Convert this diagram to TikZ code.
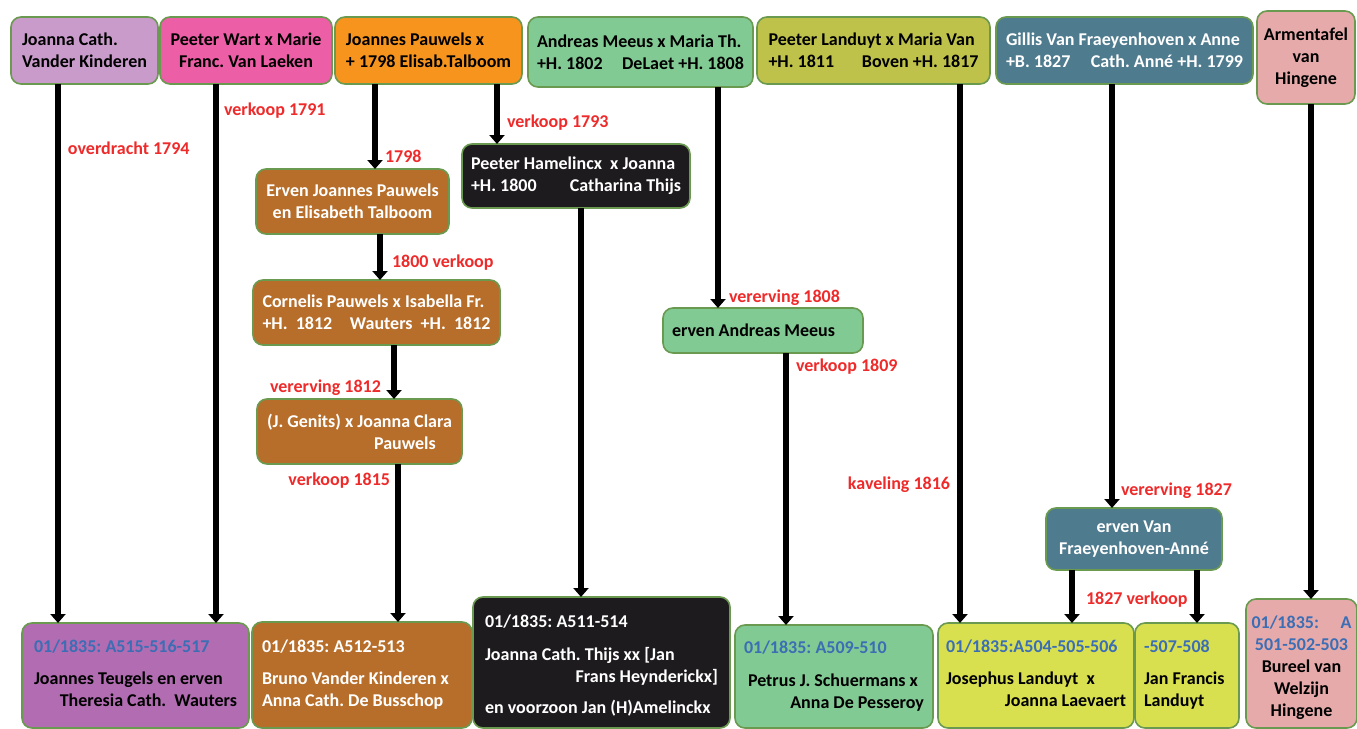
\documentclass[tikz,border=0pt]{standalone}
\usepackage{fontspec}
\setmainfont{Carlito}
\usetikzlibrary{arrows.meta}
\frenchspacing

\definecolor{rim}{HTML}{6A9A50}
\definecolor{lilac}{HTML}{C99BCB}
\definecolor{rose}{HTML}{EC5EA5}
\definecolor{amber}{HTML}{F7941E}
\definecolor{mint}{HTML}{82CA94}
\definecolor{olive}{HTML}{BFC24A}
\definecolor{slate}{HTML}{4F7B8F}
\definecolor{blush}{HTML}{E7AAAA}
\definecolor{rust}{HTML}{B76E2A}
\definecolor{ink}{HTML}{1E1B1F}
\definecolor{plum}{HTML}{B26CB2}
\definecolor{lime}{HTML}{D9E050}
\definecolor{idblue}{HTML}{3B6EB4}
\definecolor{lblred}{HTML}{EE2A2A}

% one line stretched over a fixed width
\newcommand{\spreadline}[3]{\hbox to #1{#2\hfill#3}}
\newcommand{\kad}[1]{\textcolor{idblue}{#1}}

\begin{document}
\begin{tikzpicture}[x=0.5pt,y=-0.5pt,
    box/.style={draw=rim, line width=0.8pt, rounded corners=5pt, inner sep=0pt, outer sep=0pt,
      anchor=north west, font=\bfseries\fontsize{9}{11}\selectfont},
    low/.style={box, inner xsep=#1, inner ysep=0pt, align=flush left},
    conn/.style={line width=3pt, -{Triangle[width=7.5pt,length=4.5pt]}},
    lbl/.style={text=lblred, inner sep=0pt, font=\bfseries\fontsize{9}{11}\selectfont}]
  \useasboundingbox (0,0) rectangle (1357,729);

  % owners before the cadastre
  \node[box, fill=lilac, minimum width=73.5pt, minimum height=33.5pt, align=left] (joanna) at (11,17) {Joanna Cath.\\Vander Kinderen};
  \node[box, fill=rose, minimum width=86pt, minimum height=33.5pt, align=center] (wart) at (160,17) {Peeter Wart x Marie\\Franc. Van Laeken};
  \node[box, fill=amber, minimum width=93.5pt, minimum height=33.5pt, align=left] (pauwels) at (335,17) {Joannes Pauwels x\\+ 1798 Elisab.Talboom};
  \node[box, fill=mint, minimum width=112.5pt, minimum height=35pt, align=left] (meeus) at (528,17) {Andreas Meeus x Maria Th.\\\spreadline{103.5pt}{+H. 1802}{DeLaet +H. 1808}};
  \node[box, fill=olive, minimum width=116.5pt, minimum height=33.5pt, align=left] (landuyt) at (757,17) {Peeter Landuyt x Maria Van\\\spreadline{105pt}{+H. 1811}{Boven +H. 1817}};
  \node[box, fill=slate, text=white, minimum width=128.5pt, minimum height=33.5pt, align=left] (gillis) at (996,17) {Gillis Van Fraeyenhoven x Anne\\\spreadline{118.5pt}{+B. 1827}{Cath. Anné +H. 1799}};
  \node[box, fill=blush, minimum width=49pt, minimum height=46.5pt, align=center] (armen) at (1257,11) {Armentafel\\van\\Hingene};

  % in between
  \node[box, fill=rust, text=white, minimum width=96.5pt, minimum height=32.5pt, align=center] (ervenjp) at (256,169) {Erven Joannes Pauwels\\en Elisabeth Talboom};
  \node[box, fill=rust, text=white, minimum width=123.5pt, minimum height=32.5pt, align=left] (cornelis) at (253,280) {Cornelis Pauwels x Isabella Fr.\\\spreadline{114pt}{+H.~~1812}{Wauters~~+H.~~1812}};
  \node[box, fill=rust, text=white, minimum width=102.5pt, minimum height=32.5pt, align=left] (genits) at (257,399) {(J. Genits) x Joanna Clara\\\hspace*{53.5pt}Pauwels};
  \node[box, fill=ink, text=white, minimum width=114pt, minimum height=32pt, align=left] (hamel) at (462,144) {Peeter Hamelincx~~x Joanna\\\spreadline{105pt}{+H. 1800}{Catharina Thijs}};
  \node[box, fill=mint, minimum width=100pt, minimum height=22.5pt, text width=91pt, align=flush left] (ervenam) at (663,308) {erven Andreas Meeus};
  \node[box, fill=slate, text=white, minimum width=88pt, minimum height=31pt, align=center] (ervenvf) at (1046,508) {erven Van\\Fraeyenhoven-Anné};

  % cadastre 1835
  \node[low=6pt, fill=plum, text width=101.5pt, text height=14.5pt, text depth=38pt] (teugels) at (22,623)
    {\kad{01/1835: A515-516-517}\\[5pt]Joannes Teugels en erven\\\hspace*{\fill}Theresia Cath.~~Wauters};
  \node[low=5pt, fill=rust, text=white, text width=100pt, text height=15pt, text depth=38pt] (busschop) at (252,622)
    {01/1835: A512-513\\[5pt]Bruno Vander Kinderen x\\Anna Cath. De Busschop};
  \node[low=6pt, fill=ink, text=white, text width=116.5pt, text height=15pt, text depth=50.5pt] (thijs) at (473,597)
    {01/1835: A511-514\\[5.5pt]Joanna Cath. Thijs xx [Jan\\\hspace*{\fill}Frans Heynderickx]\\[4.5pt]en voorzoon Jan (H)Amelinckx};
  \node[low=4.5pt, fill=mint, text width=90pt, text height=14pt, text depth=37.5pt] (schuer) at (735,625)
    {\kad{01/1835: A509-510}\\[5.5pt]\hspace*{2pt}Petrus J. Schuermans x\\\hspace*{\fill}Anna De Pesseroy};
  \node[low=4pt, fill=lime, text width=90pt, text height=14.5pt, text depth=38pt] (josephus) at (938,623)
    {\kad{01/1835:A504-505-506}\\[5pt]Josephus Landuyt~~x\\\hspace*{\fill}Joanna Laevaert};
  \node[low=4.5pt, fill=lime, text width=43pt, text height=14.5pt, text depth=38pt] (janfr) at (1135,623)
    {\kad{-507-508}\\[5pt]Jan Francis\\Landuyt};
  \node[low=2.75pt, fill=blush, text width=50pt, text height=14.5pt, text depth=50pt, align=flush center] (bureel) at (1246,599)
    {\kad{01/1835:\hfill A}\\\kad{501-502-503}\\Bureel van\\Welzijn\\Hingene};

  \path[conn]
    ([xshift=23.5pt]joanna.south west) edge node[lbl, pos=.12, right=3.5pt] {overdracht 1794} ([xshift=18pt]teugels.north west)
    ([xshift=28pt]wart.south west) edge node[lbl, pos=.05, right=2.5pt] {verkoop 1791} ([xshift=97pt]teugels.north west)
    ([xshift=20pt]pauwels.south west) edge node[lbl, pos=.85, right=3.5pt] {1798} ([xshift=59.5pt]ervenjp.north west)
    ([xshift=81pt]pauwels.south west) edge node[lbl, pos=.65, right=3.5pt] {verkoop 1793} ([xshift=17.5pt]hamel.north west)
    ([xshift=95pt]meeus.south west) edge node[lbl, pos=.955, right=4pt] {vererving 1808} ([xshift=27.5pt]ervenam.north west)
    ([xshift=101.5pt]landuyt.south west) edge node[lbl, pos=.744, left=3.5pt] {kaveling 1816} ([xshift=11pt]josephus.north west)
    ([xshift=58pt]gillis.south west) edge node[lbl, pos=.96, right=3pt] {vererving 1827} ([xshift=33pt]ervenvf.north west)
    ([xshift=27pt]armen.south west) edge ([xshift=32.5pt]bureel.north west)
    ([xshift=62pt]ervenjp.south west) edge node[lbl, pos=.62, right=4.5pt] {1800 verkoop} ([xshift=63.5pt]cornelis.north west)
    ([xshift=70.5pt]cornelis.south west) edge node[lbl, pos=.79, left=5pt] {vererving 1812} ([xshift=68.5pt]genits.north west)
    ([xshift=70.5pt]genits.south west) edge node[lbl, pos=.107, left=2.5pt] {verkoop 1815} ([xshift=73pt]busschop.north west)
    ([xshift=59.5pt]hamel.south west) edge ([xshift=54pt]thijs.north west)
    ([xshift=61.5pt]ervenam.south west) edge node[lbl, pos=.05, right=3.5pt] {verkoop 1809} ([xshift=25.5pt]schuer.north west)
    ([xshift=13pt]ervenvf.south west) edge node[lbl, pos=.55, right=5.5pt] {1827 verkoop} ([xshift=67pt]josephus.north west)
    ([xshift=75.5pt]ervenvf.south west) edge ([xshift=31pt]janfr.north west);
\end{tikzpicture}
\end{document}
